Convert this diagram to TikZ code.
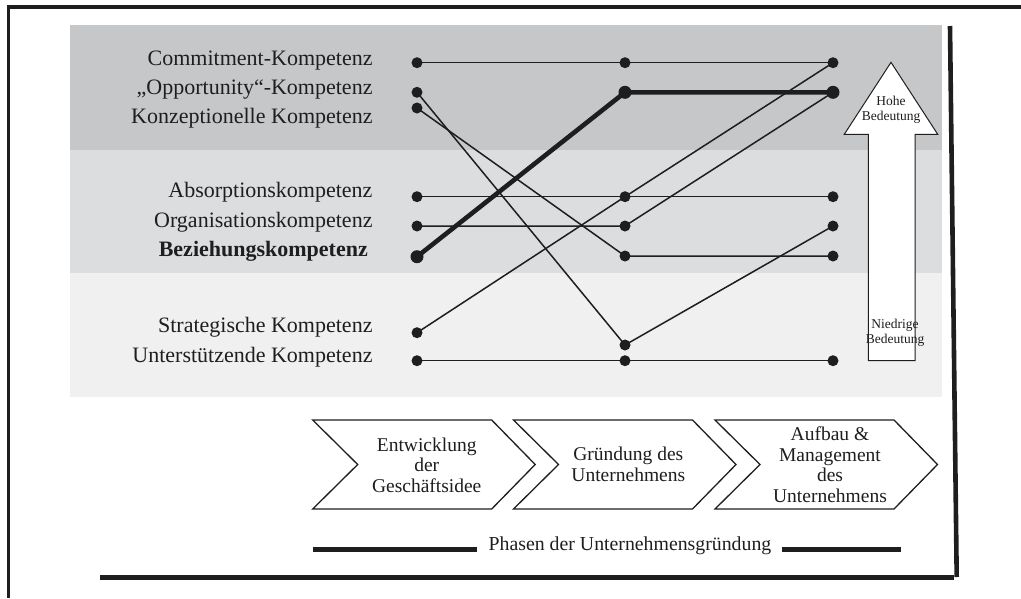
\documentclass[tikz,border=0pt]{standalone}
\usepackage{fontspec}
\setmainfont{Liberation Serif}
\definecolor{ink}{RGB}{30,30,30}
\definecolor{bandA}{RGB}{198,199,201}
\definecolor{bandB}{RGB}{220,221,223}
\definecolor{bandC}{RGB}{240,240,240}
\begin{document}
\begin{tikzpicture}[x=1pt,y=-1pt,
  dot/.style={circle,fill=ink,inner sep=0pt,minimum size=11pt},
  bigdot/.style={circle,fill=ink,inner sep=0pt,minimum size=13pt},
  link/.style={draw=ink,line width=1.5pt},
  boldlink/.style={draw=ink,line width=4.6pt,line join=round},
  komp/.style={anchor=base east,inner sep=0pt,font=\fontsize{22}{26}\selectfont,text=ink},
  phasebox/.style={draw=ink,line width=1.3pt,fill=white,line join=miter},
  phasetext/.style={align=center,inner sep=0pt,font=\fontsize{19.5}{20.5}\selectfont,text=ink},
  arrowtext/.style={align=center,inner sep=0pt,font=\fontsize{13.5}{15}\selectfont,text=ink},
  frameline/.style={draw=ink,line width=3.3pt},
  heavyline/.style={draw=ink,line width=4.6pt}
]
\useasboundingbox (0,0) rectangle (1021,598);

% importance bands
\fill[bandA] (70,25) rectangle (942,150);
\fill[bandB] (70,150) rectangle (942,273);
\fill[bandC] (70,273) rectangle (942,397);

% outer frame
\draw[frameline] (8,7) -- (1021,7);
\draw[frameline] (8.3,5.4) -- (8.3,598);
\draw[heavyline] (950,26) -- (956.7,577);
\draw[heavyline] (100,577.3) -- (954,577.3);

% competence labels
\node[komp] (tCom) at (372.7,65.5) {Commitment-Kompetenz};
\node[komp] (tOpp) at (372.7,94.5) {„Opportunity“-Kompetenz};
\node[komp] (tKon) at (372.7,123) {Konzeptionelle Kompetenz};
\node[komp] (tAbs) at (372.7,197.5) {Absorptionskompetenz};
\node[komp] (tOrg) at (372.7,227) {Organisationskompetenz};
\node[komp,font=\fontsize{22}{26}\selectfont\bfseries] (tBez) at (368,256.5) {Beziehungskompetenz};
\node[komp] (tStr) at (372.7,332) {Strategische Kompetenz};
\node[komp] (tUnt) at (372.7,362) {Unterstützende Kompetenz};

% dot positions: idea phase (L), foundation (M), growth (R)
\coordinate (LCom) at (417,62.7);
\coordinate (LOpp) at (417,92.3);
\coordinate (LKon) at (417,108);
\coordinate (LAbs) at (417,196.7);
\coordinate (LOrg) at (417,226);
\coordinate (LBez) at (417,256.7);
\coordinate (LStr) at (417,332.7);
\coordinate (LUnt) at (417,360.7);

\coordinate (MCom) at (625,62.7);
\coordinate (MTop) at (625,92.3);
\coordinate (MAbs) at (625,196.7);
\coordinate (MOrg) at (625,226);
\coordinate (MBez) at (625,256);
\coordinate (MLow) at (625,345);
\coordinate (MUnt) at (625,360.7);

\coordinate (RCom) at (833,62.7);
\coordinate (RTop) at (833,92.3);
\coordinate (RAbs) at (833,196.7);
\coordinate (ROrg) at (833,226);
\coordinate (RBez) at (833,256);
\coordinate (RUnt) at (833,360.7);

% development paths
\draw[link] (LCom) -- (MCom) -- (RCom);
\draw[link] (LOpp) -- (MLow) -- (ROrg);
\draw[link] (LKon) -- (MBez) -- (RBez);
\draw[link] (LAbs) -- (MAbs) -- (RAbs);
\draw[link] (LOrg) -- (MOrg) -- (RTop);
\draw[link] (LStr) -- (MAbs) -- (RCom);
\draw[link] (LUnt) -- (MUnt) -- (RUnt);
\draw[boldlink] (LBez) -- (MTop) -- (RTop);

% dots
\foreach \p in {LCom,LOpp,LKon,LAbs,LOrg,LStr,LUnt,
                MCom,MAbs,MOrg,MBez,MLow,MUnt,
                RCom,RAbs,ROrg,RBez,RUnt}
  \node[dot] at (\p) {};
\foreach \p in {LBez,MTop,RTop}
  \node[bigdot] at (\p) {};

% importance arrow
\draw[draw=ink,fill=white,line width=1pt,line join=miter]
  (891,62.3) -- (937.7,134.3) -- (915,134.3) -- (915,360.7)
  -- (868.3,360.7) -- (868.3,134.3) -- (844.3,134.3) -- cycle;
\node[arrowtext] (hoch) at (891,110) {Hohe\\Bedeutung};
\node[arrowtext] (tief) at (895,333) {Niedrige\\Bedeutung};

% phases
\foreach \x/\n in {312.7/p1,513.5/p2,715/p3}
  \draw[phasebox] (\x,420) -- ++(179,0) -- ++(43.5,44.5) -- ++(-43.5,44.5)
    -- ++(-179,0) -- ++(45,-44.5) -- cycle;
\node[phasetext] (ph1) at (426.7,465) {Entwicklung\\der\\Geschäftsidee};
\node[phasetext] (ph2) at (628.3,464.5) {Gründung des\\Unternehmens};
\node[phasetext] (ph3) at (830,464.5) {Aufbau \&\\Management\\des\\Unternehmens};

% phase caption
\node[inner sep=0pt,font=\fontsize{19.8}{22}\selectfont,text=ink,anchor=base] (cap) at (630,550.5) {Phasen der Unternehmensgründung};
\draw[draw=ink,line width=5.3pt] (312.7,549.3) -- (476.7,549.3);
\draw[draw=ink,line width=5.3pt] (782.3,549.3) -- (901,549.3);
\end{tikzpicture}
\end{document}
